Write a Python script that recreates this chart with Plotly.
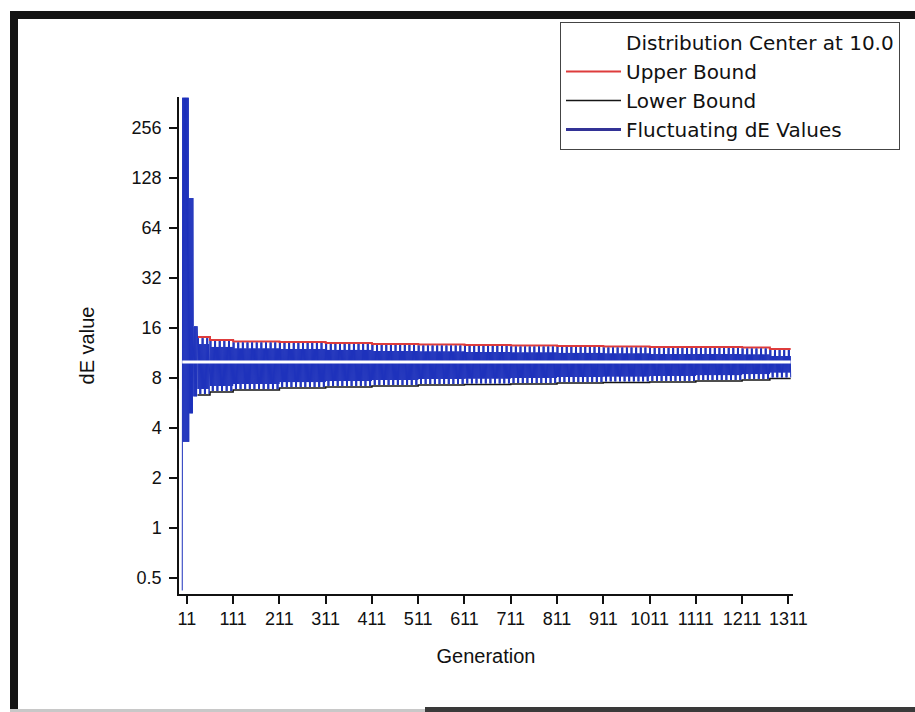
import plotly.graph_objects as go

# ---- data -------------------------------------------------------------
# opening generations: one very small value, then wide oscillation blocks
first_value = 0.42
early_start = [2, 16, 25]
early_high = [390.0, 97.0, 16.4]
early_low = [3.3, 4.9, 6.2]

# steady phase, listed per span of generations
span_start = [34, 61, 111, 211, 311, 411, 511, 611, 711, 811, 911, 1011, 1111, 1211, 1271]
upper_bound = [14.1, 13.55, 13.27, 13.18, 13.0, 12.82, 12.73, 12.64, 12.55, 12.47, 12.38, 12.29, 12.29, 12.21, 11.96]
lower_bound = [6.32, 6.59, 6.77, 6.96, 7.06, 7.16, 7.26, 7.31, 7.36, 7.46, 7.52, 7.57, 7.67, 7.78, 7.95]
peak_value = [13.9, 13.36, 13.09, 13.0, 12.82, 12.64, 12.55, 12.47, 12.38, 12.3, 12.21, 12.12, 12.12, 12.04, 11.79]
core_high = [12.8, 12.3, 12.04, 11.96, 11.8, 11.63, 11.55, 11.47, 11.39, 11.32, 11.24, 11.15, 11.15, 11.08, 10.85]
core_low = [6.87, 7.16, 7.36, 7.56, 7.67, 7.78, 7.89, 7.94, 8.0, 8.11, 8.17, 8.23, 8.33, 8.45, 8.64]
trough_value = [6.41, 6.68, 6.86, 7.06, 7.16, 7.26, 7.36, 7.41, 7.46, 7.56, 7.63, 7.68, 7.78, 7.89, 8.06]
last_generation = 1316

center_value = 10.0

x_ticks = [11, 111, 211, 311, 411, 511, 611, 711, 811, 911, 1011, 1111, 1211, 1311]
y_ticks = [0.5, 1, 2, 4, 8, 16, 32, 64, 128, 256]
y_tick_text = ["0.5", "1", "2", "4", "8", "16", "32", "64", "128", "256"]

# ---- build the generation series --------------------------------------
gens = [1]
de_vals = [first_value]

early_ends = early_start[1:] + [span_start[0]]
for s, e, hi, lo in zip(early_start, early_ends, early_high, early_low):
    for k, g in enumerate(range(s, e)):
        gens.append(g)
        de_vals.append(hi if k % 2 == 0 else lo)

span_ends = span_start[1:] + [last_generation + 1]
for i, (s, e) in enumerate(zip(span_start, span_ends)):
    for k, g in enumerate(range(s, e)):
        c = k % 10
        if k % 2 == 0:
            v = peak_value[i] if c in (0, 2) else core_high[i]
        else:
            v = trough_value[i] if c in (5, 7) else core_low[i]
        gens.append(g)
        de_vals.append(v)

bound_gen = span_start + [last_generation]
upper_line = upper_bound + [upper_bound[-1]]
lower_line = lower_bound + [lower_bound[-1]]

# ---- figure -------------------------------------------------------------
W, H = 915, 712
ML, MR, MT, MB = 179, 122, 97, 118
PW, PH = W - ML - MR, H - MT - MB

FONT = "Liberation Sans, Arial, sans-serif"
LEGEND_FONT = "DejaVu Sans, Liberation Sans, sans-serif"
BLUE = "rgb(30, 50, 188)"
RED = "rgb(222, 60, 60)"

fig = go.Figure()

fig.add_trace(go.Scatter(
    x=bound_gen, y=upper_line, mode="lines", name="Upper Bound",
    line=dict(color=RED, width=2, shape="hv"), legendrank=2,
))
fig.add_trace(go.Scatter(
    x=bound_gen, y=lower_line, mode="lines", name="Lower Bound",
    line=dict(color="#151515", width=1.5, shape="hv"), legendrank=3,
))
fig.add_trace(go.Scatter(
    x=gens, y=de_vals, mode="lines", name="Fluctuating dE Values",
    line=dict(color=BLUE, width=1), showlegend=False,
))
# legend key for the dE series, drawn with a heavier stroke
fig.add_trace(go.Scatter(
    x=[None], y=[None], mode="lines", name="Fluctuating dE Values",
    line=dict(color="rgb(50, 50, 150)", width=3), legendrank=4,
))
fig.add_trace(go.Scatter(
    x=[gens[0], gens[-1]], y=[center_value, center_value], mode="lines",
    name="Distribution Center at 10.0",
    line=dict(color="white", width=3), legendrank=1,
))


def px_x(p):
    return (p - ML) / PW


def px_y(p):
    return (H - MB - p) / PH


frame = [
    # scanned page border
    dict(x0=10, x1=18, y0=11, y1=712, color="#141414"),
    dict(x0=10, x1=915, y0=11, y1=19, color="#141414"),
    dict(x0=10, x1=425, y0=709, y1=712, color="#c8c8c8"),
    dict(x0=425, x1=915, y0=707, y1=712, color="#3a3a3a"),
]
shapes = []
for f in frame:
    shapes.append(dict(
        type="rect", xref="paper", yref="paper",
        x0=px_x(f["x0"]), x1=px_x(f["x1"]), y0=px_y(f["y1"]), y1=px_y(f["y0"]),
        fillcolor=f["color"], line=dict(width=0), layer="above",
    ))

fig.update_layout(
    width=W, height=H,
    margin=dict(l=ML, r=MR, t=MT, b=MB, pad=0),
    paper_bgcolor="white", plot_bgcolor="white",
    font=dict(family=FONT, size=18, color="#111"),
    showlegend=True,
    legend=dict(
        x=px_x(560), y=px_y(22), xanchor="left", yanchor="top",
        bgcolor="white", bordercolor="#444", borderwidth=1,
        font=dict(family=LEGEND_FONT, size=20, color="#111"),
        itemwidth=55, tracegroupgap=0,
    ),
    shapes=shapes,
    xaxis=dict(
        range=[-6, 1321], tickvals=x_ticks, ticktext=[str(t) for t in x_ticks],
        showgrid=False, zeroline=False,
        showline=True, linecolor="#111", linewidth=1.5,
        ticks="outside", ticklen=8, tickwidth=1.5, tickcolor="#111",
        tickfont=dict(family=FONT, size=18, color="#111"),
        title=dict(text="Generation", font=dict(family=FONT, size=20, color="#111"), standoff=21),
    ),
    yaxis=dict(
        type="log", range=[-0.398, 2.5955],
        tickvals=y_ticks, ticktext=y_tick_text,
        showgrid=False, zeroline=False,
        showline=True, linecolor="#111", linewidth=1.5,
        ticks="outside", ticklen=8, tickwidth=1.5, tickcolor="#111",
        ticklabelstandoff=4,
        tickfont=dict(family=FONT, size=18, color="#111"),
        title=dict(text="dE value", font=dict(family=FONT, size=20, color="#111"), standoff=32),
    ),
)

fig.write_html("out.html")
